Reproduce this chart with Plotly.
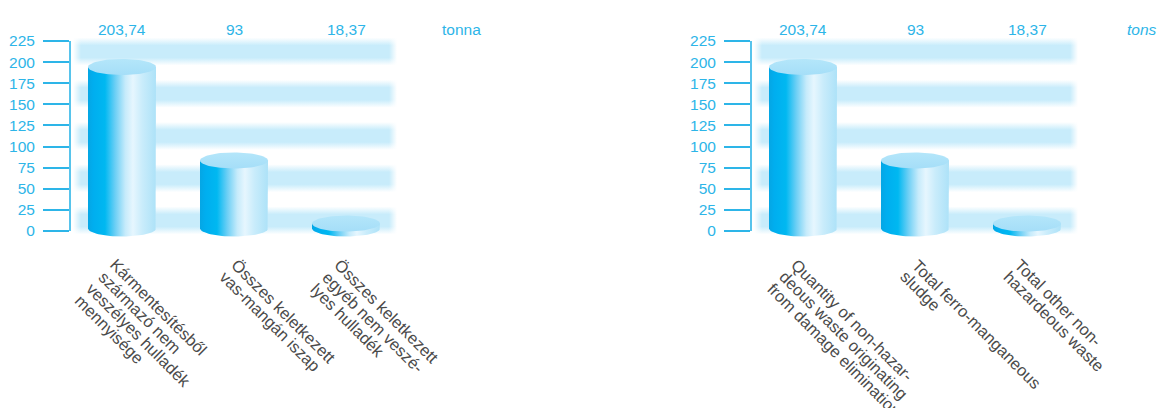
import numpy as np
import plotly.graph_objects as go

# ---- data -------------------------------------------------------------
VALUES = [203.74, 93, 18.37]
Y_TICKS = [0, 25, 50, 75, 100, 125, 150, 175, 200, 225]
LABELS_HU = [
    ["Kármentesítésből", "származó nem", "veszélyes hulladék", "mennyisége"],
    ["Összes keletkezett", "vas-mangán iszap"],
    ["Összes keletkezett", "egyéb nem veszé-", "lyes hulladék"],
]
LABELS_EN = [
    ["Quantity of non-hazar-", "deous waste originating", "from damage elimination"],
    ["Total ferro-manganeous", "sludge"],
    ["Total other non-", "hazardeous waste"],
]
UNIT_HU = "tonna"
UNIT_EN = "tons"

# ---- layout constants (pixels) ------------------------------------------
W, H = 1158, 408
PANEL_SHIFT = 681          # right panel is the left one moved sideways
AXIS_PX = 70               # y axis line
BAR0_PX = 122              # centre of the first cylinder
STEP_PX = 112              # distance between cylinders
BAR_HALF_PX = 34
RIGHT_PX = 400
BAND_L_PX, BAND_R_PX = 73, 397
Y_ZERO_PX, Y_MAX_PX = 231, 41
DOM_TOP_PX, DOM_BOT_PX = 20, 252
VALUE_ROW_PX = 30
LABEL_TOP_PX = 253
LABEL_DX = [-4, 5, -4]     # nudge of each category caption
LINE_STEP = 11.8           # offset between caption lines along each axis

CYAN = "#2db5e8"
GREY = "#4a4a4a"
FONT = "Liberation Sans, Arial, sans-serif"

ymax = Y_TICKS[-1]
px_per_unit = (Y_ZERO_PX - Y_MAX_PX) / ymax
y_range = [-(DOM_BOT_PX - Y_ZERO_PX) / px_per_unit,
           ymax + (Y_MAX_PX - DOM_TOP_PX) / px_per_unit]
x_range = [(AXIS_PX - BAR0_PX) / STEP_PX, (RIGHT_PX - BAR0_PX) / STEP_PX]
RX = BAR_HALF_PX / STEP_PX
RY = 9.5
BASE = 3.0

SIDE_SCALE = [
    [0.0, "#05a6e4"], [0.08, "#00aeef"], [0.25, "#00b8f1"],
    [0.40, "#6ccff5"], [0.55, "#c6ebfb"], [0.66, "#e6f6fe"],
    [0.80, "#c9ecfb"], [1.0, "#ade2f8"],
]
BAND_SCALE = [
    [0.0, "rgba(200,236,251,0)"], [0.28, "rgba(200,236,251,1)"],
    [0.72, "rgba(200,236,251,1)"], [1.0, "rgba(200,236,251,0)"],
]


def fmt(v):
    s = f"{v:.2f}".rstrip("0").rstrip(".")
    return s.replace(".", ",")


fig = go.Figure()
annotations = []
shapes = []

t_half = np.linspace(0, np.pi, 40)
t_full = np.linspace(0, 2 * np.pi, 90)

for p, (labels, unit, italic) in enumerate(
        [(LABELS_HU, UNIT_HU, False), (LABELS_EN, UNIT_EN, True)]):
    shift = p * PANEL_SHIFT
    xa = "x" if p == 0 else "x2"
    ya = "y" if p == 0 else "y2"

    # soft horizontal bands between every other pair of ticks
    bl = (BAND_L_PX - BAR0_PX) / STEP_PX
    br = (BAND_R_PX - BAR0_PX) / STEP_PX
    for lo, hi in zip(Y_TICKS[0::2], Y_TICKS[1::2]):
        y0, y1 = lo - 4, hi + 4
        fig.add_trace(go.Scatter(
            x=[bl, br, br, bl, bl], y=[y0, y0, y1, y1, y0],
            xaxis=xa, yaxis=ya, mode="lines", line=dict(width=0),
            fill="toself", fillgradient=dict(type="vertical", colorscale=BAND_SCALE),
            hoverinfo="skip", showlegend=False))
    # fade the band ends
    fw = 8 / STEP_PX
    for a, b, sc in [(bl, bl + fw, [[0, "rgba(255,255,255,1)"], [1, "rgba(255,255,255,0)"]]),
                     (br - fw, br, [[0, "rgba(255,255,255,0)"], [1, "rgba(255,255,255,1)"]])]:
        fig.add_trace(go.Scatter(
            x=[a, b, b, a, a], y=[-8, -8, ymax + 8, ymax + 8, -8],
            xaxis=xa, yaxis=ya, mode="lines", line=dict(width=0),
            fill="toself", fillgradient=dict(type="horizontal", colorscale=sc),
            hoverinfo="skip", showlegend=False))

    # cylinders
    for i, v in enumerate(VALUES):
        top = v - RY
        xs = ([i - RX, i - RX, i + RX, i + RX]
              + list(i + RX * np.cos(t_half)))
        ys = ([BASE, top, top, BASE]
              + list(BASE - RY * np.sin(t_half)))
        fig.add_trace(go.Scatter(
            x=xs, y=ys, xaxis=xa, yaxis=ya, mode="lines", line=dict(width=0),
            fill="toself",
            fillgradient=dict(type="horizontal", colorscale=SIDE_SCALE,
                              start=i - RX, stop=i + RX),
            hoverinfo="skip", showlegend=False))
        fig.add_trace(go.Scatter(
            x=i + RX * np.cos(t_full), y=top + RY * np.sin(t_full),
            xaxis=xa, yaxis=ya, mode="lines", line=dict(width=0),
            fill="toself",
            fillgradient=dict(type="vertical",
                              colorscale=[[0, "#a5def8"], [1, "#b4e6fa"]]),
            hoverinfo="skip", showlegend=False))

        # value above each cylinder
        annotations.append(dict(
            x=i, xref=xa, y=1 - VALUE_ROW_PX / H, yref="paper",
            text=fmt(v), showarrow=False, xanchor="center", yanchor="middle",
            font=dict(family=FONT, size=15.5, color=CYAN)))

        # rotated caption, one annotation per line
        for k, line in enumerate(labels[i]):
            annotations.append(dict(
                x=i, xref=xa, y=1 - LABEL_TOP_PX / H, yref="paper",
                xshift=LABEL_DX[i] - k * LINE_STEP - 14,
                yshift=-k * LINE_STEP,
                text=line, showarrow=False, textangle=45,
                xanchor="left", yanchor="top",
                font=dict(family=FONT, size=16.5, color=GREY)))

    # unit label
    annotations.append(dict(
        x=(461 + shift) / W, xref="paper", y=1 - VALUE_ROW_PX / H, yref="paper",
        text=f"<i>{unit}</i>" if italic else unit, showarrow=False,
        xanchor="center", yanchor="middle",
        font=dict(family=FONT, size=15.5, color=CYAN)))

    # vertical axis line from 0 to the top tick
    shapes.append(dict(type="line", xref=f"{xa} domain", yref=ya,
                       x0=0, x1=0, y0=0, y1=ymax,
                       line=dict(color=CYAN, width=1.6)))

common_x = dict(range=x_range, visible=False, fixedrange=True)
common_y = dict(range=y_range, tickvals=Y_TICKS, ticks="outside", ticklen=26,
                tickwidth=1.6, tickcolor=CYAN, showgrid=False, zeroline=False,
                showline=False, ticklabelstandoff=5,
                tickfont=dict(family=FONT, size=15.5, color=CYAN),
                domain=[1 - DOM_BOT_PX / H, 1 - DOM_TOP_PX / H])

fig.update_layout(
    width=W, height=H, margin=dict(l=0, r=0, t=0, b=0),
    paper_bgcolor="white", plot_bgcolor="white", showlegend=False,
    xaxis=dict(domain=[AXIS_PX / W, RIGHT_PX / W], anchor="y", **common_x),
    xaxis2=dict(domain=[(AXIS_PX + PANEL_SHIFT) / W, (RIGHT_PX + PANEL_SHIFT) / W],
                anchor="y2", **common_x),
    yaxis=dict(anchor="x", **common_y),
    yaxis2=dict(anchor="x2", **common_y),
    annotations=annotations, shapes=shapes,
)

fig.write_html("out.html")
